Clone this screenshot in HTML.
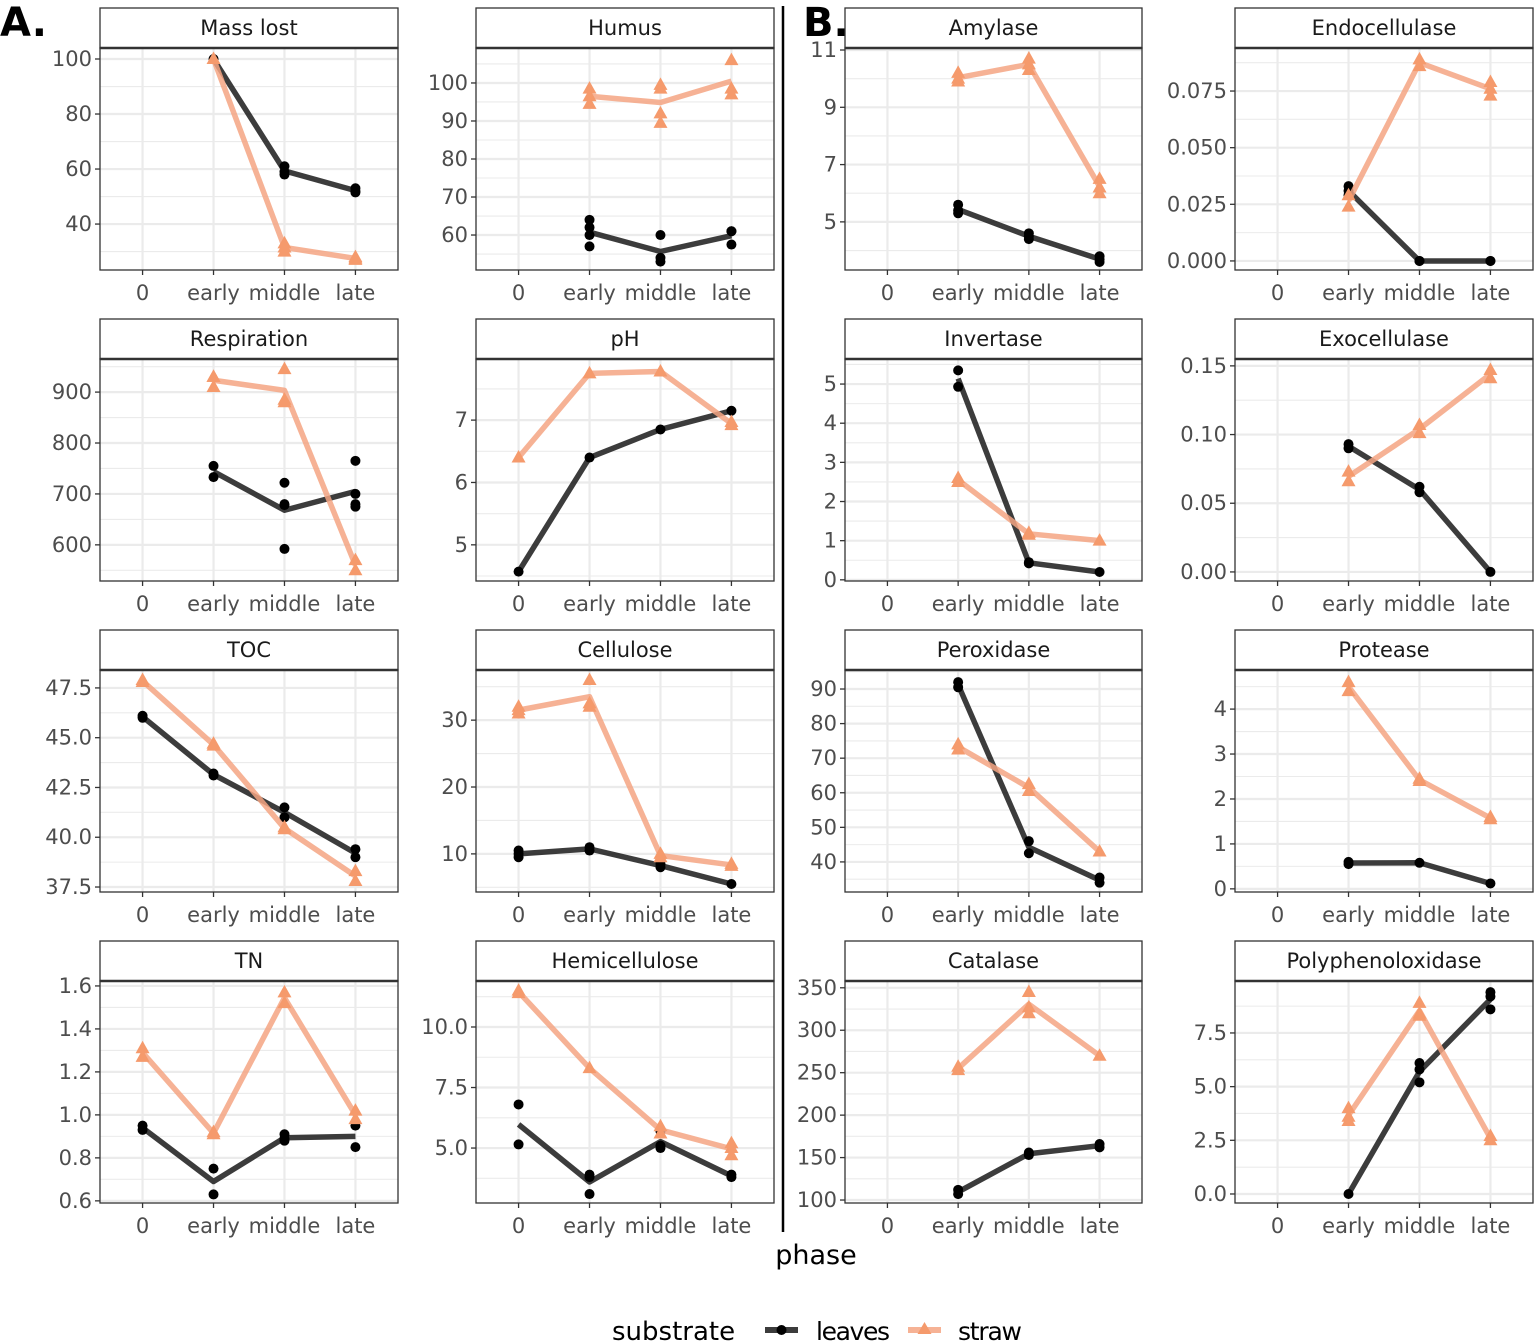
<!DOCTYPE html>
<html><head><meta charset="utf-8">
<style>
html,body{margin:0;padding:0;background:#fff;}
svg{display:block;font-family:"DejaVu Sans","Liberation Sans",sans-serif;}
</style></head>
<body>
<svg id="chart" width="1535" height="1342" viewBox="0 0 1535 1342" xmlns="http://www.w3.org/2000/svg">
<text x="0" y="36" font-size="40" font-weight="bold" fill="#000" font-family="'DejaVu Sans',sans-serif">A.</text>
<text x="803" y="36" font-size="40" font-weight="bold" fill="#000" font-family="'DejaVu Sans',sans-serif">B.</text>
<line x1="783" y1="6" x2="783" y2="1232" stroke="#000" stroke-width="2.5"/>
<text x="816" y="1264" font-size="27" text-anchor="middle" fill="#000">phase</text>
<g>
<text x="612" y="1340" font-size="26" fill="#000">substrate</text>
<g>
<line x1="765" y1="1330" x2="798" y2="1330" stroke="#1a1a1a" stroke-opacity="0.85" stroke-width="6"/>
<circle cx="781.5" cy="1330" r="5" fill="#000"/>
<text x="816" y="1340" font-size="25" fill="#000" textLength="74">leaves</text>
</g>
<g>
<line x1="908" y1="1330" x2="941" y2="1330" stroke="#f4a582" stroke-opacity="0.85" stroke-width="6"/>
<polygon points="924.5,1322 931.5,1334 917.5,1334" fill="#f59a6c"/>
<text x="958" y="1340" font-size="25" fill="#000" textLength="64">straw</text>
</g>
</g>
<g id="panels"></g>
</svg>
<script>
const categories = ["0","early","middle","late"];
const panelTitles = ["Mass lost","Humus","Amylase","Endocellulase","Respiration","pH","Invertase","Exocellulase","TOC","Cellulose","Peroxidase","Protease","TN","Hemicellulose","Catalase","Polyphenoloxidase"];
const panelDomains = [[23.3,104],[50.8,109.2],[3.32,11.07],[-0.004,0.094],[529,965],[4.42,7.98],[-0.03,5.64],[-0.0066,0.155],[37.25,48.4],[4.3,37.5],[31.3,95.5],[-0.07,4.87],[0.59,1.623],[2.73,11.9],[96.5,358],[-0.42,9.92]];
const tickValues = [[40,60,80,100],[60,70,80,90,100],[5,7,9,11],[0,0.025,0.05,0.075],[600,700,800,900],[5,6,7],[0,1,2,3,4,5],[0,0.05,0.1,0.15],[37.5,40,42.5,45,47.5],[10,20,30],[40,50,60,70,80,90],[0,1,2,3,4],[0.6,0.8,1.0,1.2,1.4,1.6],[5,7.5,10],[100,150,200,250,300,350],[0,2.5,5,7.5]];
const tickLabels = [["40","60","80","100"],["60","70","80","90","100"],["5","7","9","11"],["0.000","0.025","0.050","0.075"],["600","700","800","900"],["5","6","7"],["0","1","2","3","4","5"],["0.00","0.05","0.10","0.15"],["37.5","40.0","42.5","45.0","47.5"],["10","20","30"],["40","50","60","70","80","90"],["0","1","2","3","4"],["0.6","0.8","1.0","1.2","1.4","1.6"],["5.0","7.5","10.0"],["100","150","200","250","300","350"],["0.0","2.5","5.0","7.5"]];
const leavesValues = [
 [[],[100],[59,61,58],[52,53,51.5]],
 [[],[64,62,60,57],[60,54,53],[61,61,57.5]],
 [[],[5.6,5.4,5.3],[4.6,4.5,4.4],[3.8,3.7,3.6]],
 [[],[0.033,0.031,0.029],[0,0],[0,0]],
 [[],[755,733],[722,680,678,592],[765,700,680,675]],
 [[4.57],[6.4],[6.85],[7.15]],
 [[],[5.35,4.93],[0.45,0.42],[0.2]],
 [[],[0.093,0.09],[0.062,0.058],[0]],
 [[46.1,46.0],[43.2,43.1],[41.5,41.0],[39.4,39.0]],
 [[10.5,10.0,9.5],[11,10.5],[8.5,8.0],[5.5]],
 [[],[92,90.5],[46,42.5],[35.5,34]],
 [[],[0.6,0.55],[0.58],[0.12]],
 [[0.95,0.93],[0.75,0.63],[0.91,0.89,0.88],[0.95,0.85]],
 [[6.8,5.15],[3.9,3.1,3.8],[5.7,5.1,5.0],[3.9,3.8]],
 [[],[112,107],[156,153],[166,162]],
 [[],[0],[6.1,5.8,5.2],[9.4,9.2,8.6]]
];
const strawValues = [
 [[],[100],[30,31.5,33],[27,27.5,28]],
 [[],[98.5,96.5,94.5],[99.5,98.5,92,89.5],[106,98.5,97]],
 [[],[10.2,10,9.9],[10.7,10.5,10.3],[6.5,6.2,6.0]],
 [[],[0.029,0.024],[0.089,0.086],[0.079,0.076,0.073]],
 [[],[930,910,930],[945,885,880],[570,550]],
 [[6.4],[7.75],[7.78],[6.97,6.92]],
 [[],[2.6,2.5],[1.2,1.15],[1.0]],
 [[],[0.073,0.066],[0.107,0.101],[0.147,0.141]],
 [[47.9,47.8],[44.7,44.6],[40.5,40.4],[38.3,37.8]],
 [[32,31.5,31],[36,32.5,32],[10,9.5],[8.5,8.2]],
 [[],[74,72.5],[62.5,60.5],[43]],
 [[],[4.6,4.4],[2.45,2.4],[1.6,1.55]],
 [[1.31,1.27],[0.92,0.91],[1.57,1.52],[1.02,0.98]],
 [[11.5,11.4],[8.3],[5.9,5.6],[5.2,5.0,4.7]],
 [[],[257,253],[345,327,320],[270]],
 [[],[4.0,3.6,3.4],[8.9,8.4,8.3],[2.7,2.5]]
];

const NS = "http://www.w3.org/2000/svg";
const colX = [[100,398],[476,774],[845,1142],[1235,1533]];
const rowY = [[48,270],[359,581],[670,892],[981,1203]];
const root = document.getElementById("panels");
function mk(tag, attrs, parent){const e=document.createElementNS(NS,tag);for(const k in attrs)e.setAttribute(k,attrs[k]);parent.appendChild(e);return e;}
function slug(s){return s.toLowerCase().replace(/\s+/g,'-');}
function mean(a){return a.reduce((s,v)=>s+v,0)/a.length;}

panelTitles.forEach((title,p)=>{
  const r = Math.floor(p/4), c = p%4;
  const [x0,x1] = colX[c], [y0,y1] = rowY[r];
  const [dmin,dmax] = panelDomains[p];
  const ys = v => y1 - (v-dmin)/(dmax-dmin)*(y1-y0);
  const step = (x1-x0)/4.2;
  const xs = i => x0 + (0.6+i)*step;
  const g = mk("g",{},root);
  
  
  const strip = mk("rect",{x:x0,y:y0-40,width:x1-x0,height:40,fill:"#fff",stroke:"#333","stroke-width":1.3},g);
  
  
  const st = mk("text",{x:(x0+x1)/2,y:y0-13,"font-size":21,"text-anchor":"middle",fill:"#1a1a1a"},g);
  st.textContent = title;
  
  
  const tv = tickValues[p];
  const tstep = tv[1]-tv[0];
  for(let v=tv[0]-tstep*3; v<=dmax+1e-9; v+=tstep/2){
    if(v<dmin) continue;
    const major = Math.abs(((v-tv[0])/tstep) - Math.round((v-tv[0])/tstep))<1e-6;
    mk("line",{x1:x0,x2:x1,y1:ys(v),y2:ys(v),stroke:"#ebebeb","stroke-width":major?2.2:1.1},g);
  }
  categories.forEach((cat,i)=>{
    mk("line",{x1:xs(i),x2:xs(i),y1:y0,y2:y1,stroke:"#ebebeb","stroke-width":2.2},g);
    mk("line",{x1:xs(i),x2:xs(i),y1:y1,y2:y1+5,stroke:"#333","stroke-width":1.3},g);
    const t = mk("text",{x:xs(i),y:y1+30,"font-size":21,"text-anchor":"middle",fill:"#4d4d4d"},g);
    t.textContent = cat;
    
    
  });
  tv.forEach((v,k)=>{
    mk("line",{x1:x0-5,x2:x0,y1:ys(v),y2:ys(v),stroke:"#333","stroke-width":1.3},g);
    const t = mk("text",{x:x0-8,y:ys(v)+7,"font-size":21,"text-anchor":"end",fill:"#4d4d4d"},g);
    t.textContent = tickLabels[p][k];
    
    
  });
  [["leaves",leavesValues[p],"#1a1a1a","#000"],["straw",strawValues[p],"#f4a582","#f59a6c"]].forEach(([nm,vals,lc,pc])=>{
    const pts=[];
    vals.forEach((arr,i)=>{ if(arr.length) pts.push([xs(i),ys(mean(arr))]); });
    const line = mk("polyline",{points:pts.map(q=>q.join(",")).join(" "),fill:"none",stroke:lc,"stroke-opacity":0.85,"stroke-width":5.5,"stroke-linejoin":"round"},g);
    
    
    vals.forEach((arr,i)=>{
      arr.forEach(v=>{
        const cx=xs(i), cy=ys(v);
        let m;
        if(nm==="leaves") m = mk("circle",{cx:cx,cy:cy,r:5,fill:pc},g);
        else m = mk("polygon",{points:`${cx},${cy-7.5} ${cx+7},${cy+5} ${cx-7},${cy+5}`,fill:pc},g);
        
        
      });
    });
  });
  mk("rect",{x:x0,y:y0,width:x1-x0,height:y1-y0,fill:"none",stroke:"#333","stroke-width":1.3},g);
  mk("line",{x1:x0,x2:x1,y1:y0,y2:y0,stroke:"#333","stroke-width":2.6},g);
});
</script>
</body></html>
